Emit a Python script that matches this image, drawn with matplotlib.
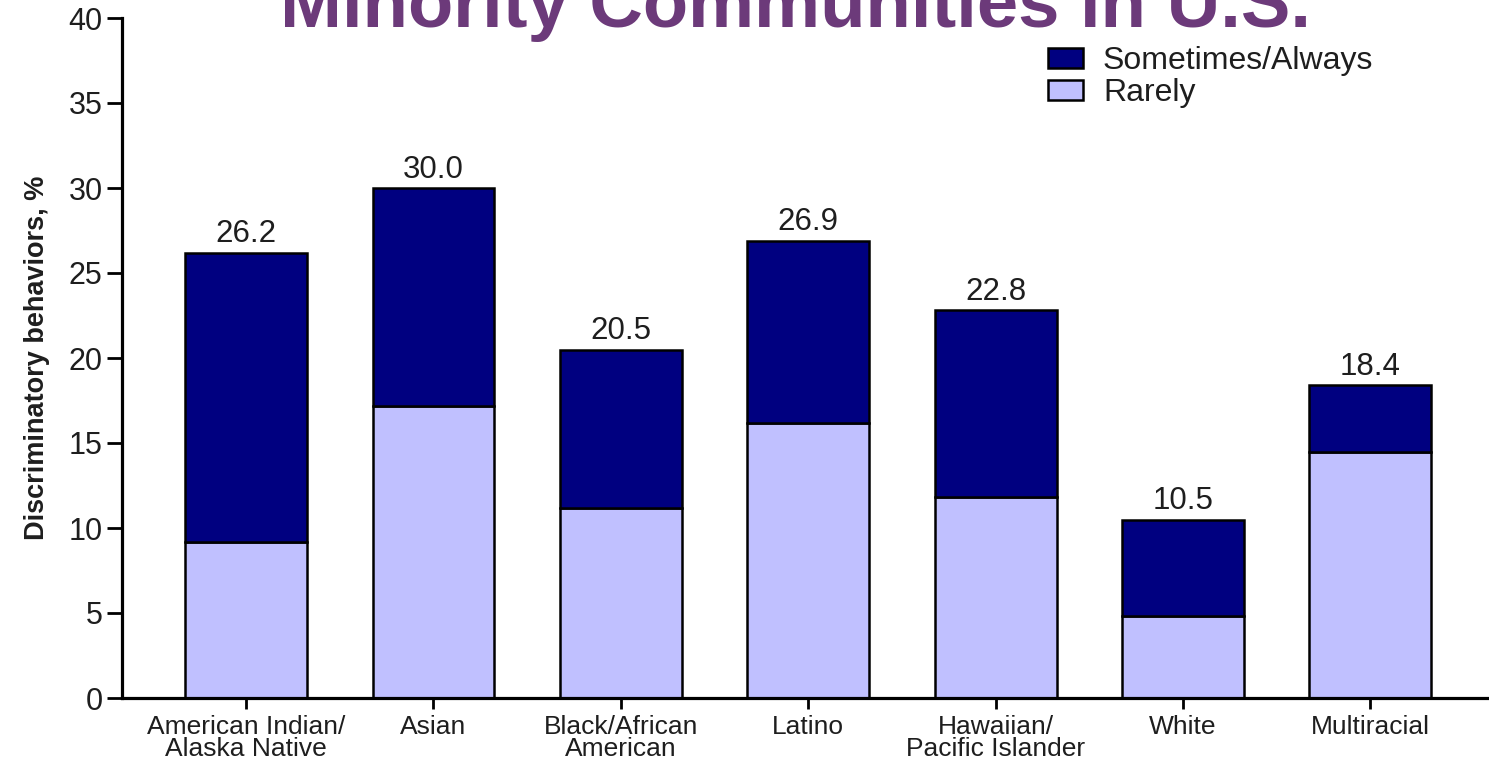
import matplotlib
matplotlib.use("Agg")
import matplotlib.pyplot as plt
from matplotlib.patches import Patch

# Survey results: share of respondents reporting discriminatory behaviors (%)
groups = ["American Indian/\nAlaska Native", "Asian", "Black/African\nAmerican",
          "Latino", "Hawaiian/\nPacific Islander", "White", "Multiracial"]
rarely = [9.2, 17.2, 11.2, 16.2, 11.8, 4.8, 14.5]
total = [26.2, 30.0, 20.5, 26.9, 22.8, 10.5, 18.4]
series_names = ["Sometimes/Always", "Rarely"]
yticks = [0, 5, 10, 15, 20, 25, 30, 35, 40]

DARK = "#000080"
LIGHT = "#C0C0FF"
TEXT = "#1e1e1e"
TITLE_COLOR = "#6C3A7A"

plt.rcParams["font.family"] = ["Liberation Sans", "DejaVu Sans"]

fig = plt.figure(figsize=(14.89, 7.58), dpi=100)
ax = fig.add_axes([122 / 1489, 1 - 698 / 758, 1 - 122 / 1489, 680 / 758])

x = list(range(len(groups)))
sometimes = [t - r for t, r in zip(total, rarely)]
bw = 0.65
ax.bar(x, rarely, width=bw, color=LIGHT, edgecolor="black", linewidth=1.8, zorder=2)
ax.bar(x, sometimes, bottom=rarely, width=bw, color=DARK, edgecolor="black",
       linewidth=1.8, zorder=2)

for xi, t in zip(x, total):
    ax.annotate(f"{t:.1f}", xy=(xi, t), xytext=(0, 2.5), textcoords="offset points",
                ha="center", va="bottom", fontsize=22.5, color=TEXT)

ax.set_xlim(-0.662, 6.633)
ax.set_ylim(0, 40)
ax.set_yticks(yticks)
ax.set_xticks(x)
ax.set_xticklabels(groups, fontsize=19, color=TEXT, linespacing=0.9)
ax.tick_params(axis="y", labelsize=22, labelcolor=TEXT, length=11, width=2, pad=3)
ax.tick_params(axis="x", length=8, width=2, pad=4)

for side in ("top", "right"):
    ax.spines[side].set_visible(False)
for side in ("left", "bottom"):
    ax.spines[side].set_linewidth(2.3)

ax.set_ylabel("Discriminatory behaviors, %", fontsize=19.5, fontweight="bold", color=TEXT)
ax.yaxis.set_label_coords(-0.053, 0.5)

handles = [Patch(facecolor=DARK, edgecolor="black", linewidth=1.8),
           Patch(facecolor=LIGHT, edgecolor="black", linewidth=1.8)]
fig.legend(handles, series_names, loc="upper left",
           bbox_to_anchor=(1048 / 1489, 1 - 46 / 758), frameon=False,
           fontsize=23, handlelength=1.1, handleheight=0.6, handletextpad=0.62,
           labelspacing=0.06, borderpad=0, borderaxespad=0, labelcolor=TEXT)

fig.text(795 / 1489, 1 - 27 / 758, "Minority Communities in U.S.", ha="center",
         va="baseline", fontsize=53.5, fontweight="bold", color=TITLE_COLOR)

fig.savefig("out.png", dpi=100)
